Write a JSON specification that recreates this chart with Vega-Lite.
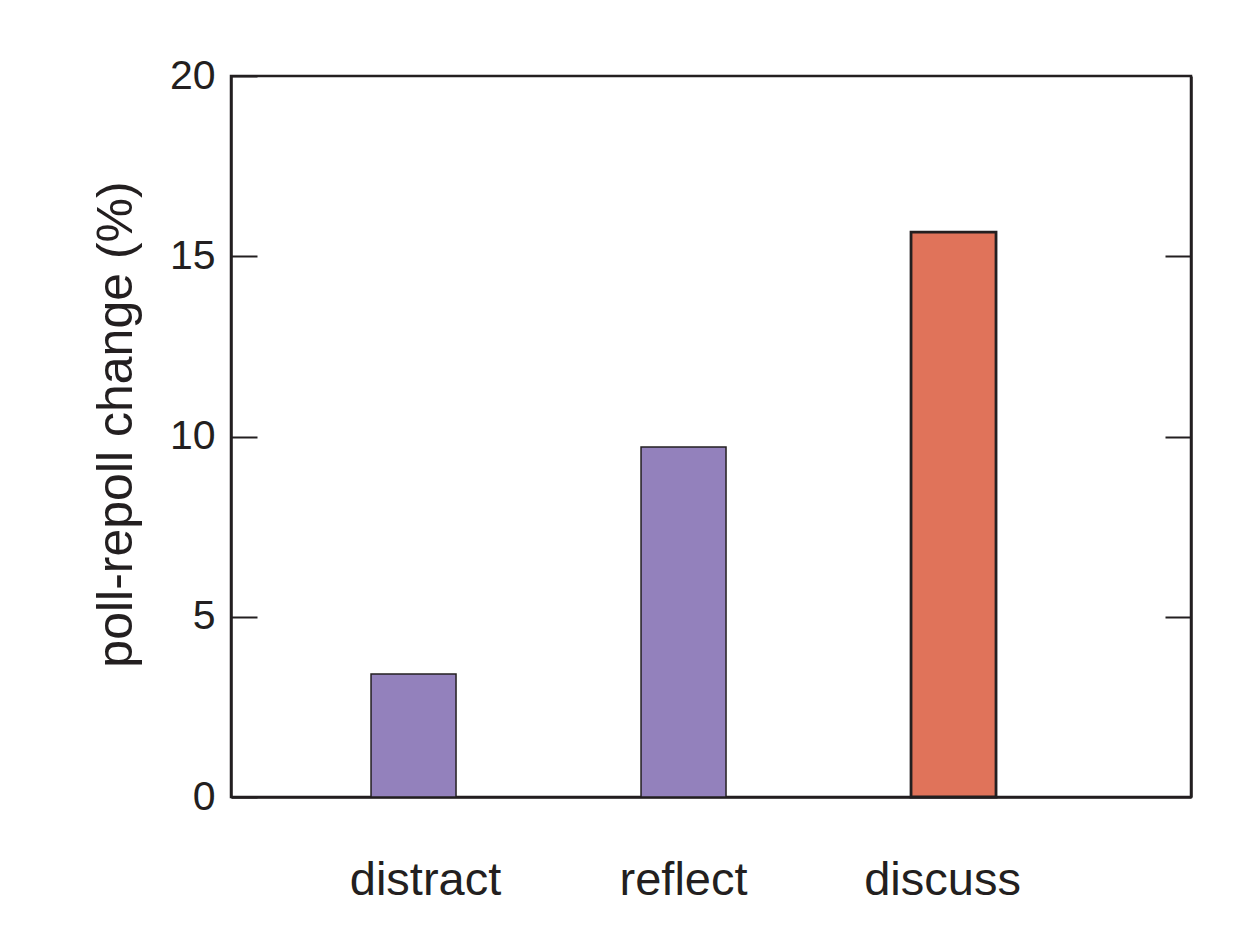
{
  "$schema": "https://vega.github.io/schema/vega-lite/v6.json",
  "width": 960,
  "height": 721,
  "autosize": {"type": "none"},
  "padding": {"left": 231, "top": 76, "right": 52, "bottom": 151},
  "background": "white",
  "config": {
    "font": "Liberation Sans",
    "view": {"stroke": "#231f20", "strokeWidth": 2.5},
    "axis": {"domainColor": "#231f20", "tickColor": "#231f20", "labelColor": "#231f20", "titleColor": "#231f20", "grid": false}
  },
  "data": {"values": [
    {"condition": "distract", "change": 3.41},
    {"condition": "reflect", "change": 9.71},
    {"condition": "discuss", "change": 15.67}
  ]},
  "layer": [
    {
      "mark": {"type": "bar", "stroke": "#231f20"},
      "encoding": {
        "x": {"field": "condition", "type": "nominal", "sort": null,
          "scale": {"paddingInner": 0.6852, "paddingOuter": 0.6204, "align": 0.418},
          "axis": {"title": null, "labelAngle": 0, "ticks": false, "labelFontSize": 47, "labelPadding": 60, "domainWidth": 2.5,
            "labelOffset": {"expr": "datum.value === 'distract' ? 12 : datum.value === 'discuss' ? -11 : 0"}}},
        "y": {"field": "change", "type": "quantitative",
          "scale": {"domain": [0, 20], "nice": false},
          "axis": {"title": "poll-repoll change (%)", "values": [0, 5, 10, 15, 20], "tickSize": -26, "tickWidth": 2, "labelPadding": 42, "labelFontSize": 41, "titleFontSize": 50, "titleFontWeight": "normal", "titlePadding": 28, "titleY": 348, "domainWidth": 2.5}},
        "fill": {"field": "condition", "type": "nominal", "legend": null,
          "scale": {"domain": ["distract", "reflect", "discuss"], "range": ["#9381bc", "#9381bc", "#e0735a"]}},
        "strokeWidth": {"condition": {"test": "datum.condition === 'discuss'", "value": 2.8}, "value": 1.5}
      }
    },
    {
      "mark": {"type": "rule", "opacity": 0},
      "encoding": {
        "y": {"field": "change", "type": "quantitative",
          "axis": {"orient": "right", "title": null, "labels": false, "values": [5, 10, 15], "tickSize": -26, "tickWidth": 2, "domainWidth": 2.5}}
      }
    }
  ],
  "resolve": {"axis": {"y": "independent"}, "scale": {"y": "shared"}}
}
